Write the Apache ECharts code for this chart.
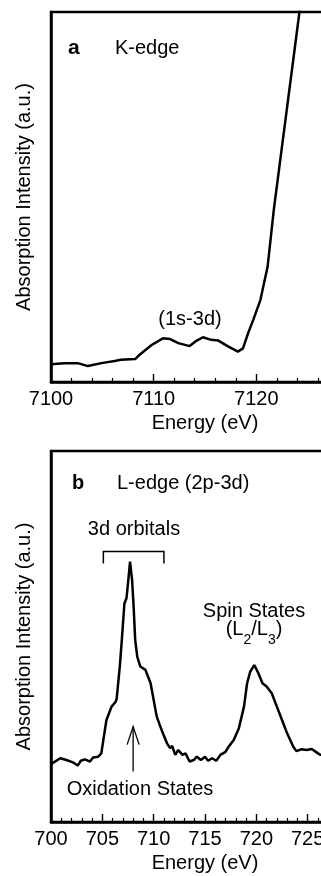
<!DOCTYPE html>
<html>
<head>
<meta charset="utf-8">
<script src="https://cdn.jsdelivr.net/npm/echarts@6/dist/echarts.min.js"></script>
<style>
  html, body { margin: 0; padding: 0; background: #fff; }
  #chart { width: 321px; height: 876px; }
</style>
</head>
<body>
<div id="chart"></div>
<script>
// panel a: Fe K-edge pre-edge region
const energyK = [7100.0, 7101.3, 7102.6, 7103.6, 7104.9, 7106.2, 7106.8, 7108.2, 7108.6, 7109.8, 7110.9, 7111.6,
  7112.4, 7113.5, 7114.2, 7114.8, 7115.6, 7116.3, 7117.2, 7118.2, 7118.7, 7119.2, 7119.7, 7120.4, 7121.1, 7121.7,
  7124.2, 7124.6]
const intensityK = [4.8, 5.1, 5.1, 4.3, 5.1, 5.7, 6.0, 6.2, 7.3, 10.0, 11.8, 11.6,
  10.5, 9.7, 11.2, 12.1, 11.4, 11.2, 9.7, 8.2, 9.1, 13.2, 16.8, 22.2, 31.2, 46.5,
  100, 107]

// panel b: L-edge (2p-3d)
const energyL = [700.0, 700.9, 701.5, 702.2, 702.6, 702.9, 703.3, 703.8, 704.1, 704.6, 704.9, 705.1, 705.4,
  705.9, 706.3, 706.4, 706.7, 706.9, 707.15, 707.35, 707.5, 707.7, 707.9, 708.05, 708.2, 708.4,
  708.7, 709.2, 709.7, 710.0, 710.3, 710.6, 710.9, 711.3, 711.6, 711.8, 712.1, 712.4, 712.8, 713.1,
  713.5, 713.9, 714.2, 714.6, 715.0, 715.3, 715.7, 716.1, 716.5, 717.0, 717.3, 717.8, 718.3, 718.8,
  719.1, 719.4, 719.8, 720.2, 720.6, 721.0, 721.5, 722.0, 722.5, 723.0, 723.3, 723.6, 723.9, 724.4,
  724.9, 725.4, 725.8, 726.2, 726.6]
const intensityL = [15.6, 17.2, 16.7, 16.0, 15.2, 16.5, 16.9, 16.3, 17.4, 17.6, 18.5, 22.1, 27.5,
  31.1, 32.4, 33.3, 41.9, 49.1, 58.9, 60.3, 64.3, 70.2, 65.2, 58.0, 49.1, 44.6,
  41.9, 41.0, 37.4, 32.9, 28.4, 26.1, 23.9, 21.2, 19.9, 20.5, 18.1, 19.4, 18.1, 18.5,
  16.3, 16.7, 17.6, 16.7, 17.6, 16.5, 17.2, 16.5, 18.1, 18.9, 20.3, 22.1, 25.3, 31.1,
  37.4, 40.5, 42.3, 40.1, 37.4, 36.5, 34.7, 31.1, 27.5, 23.9, 22.1, 20.3, 19.1, 19.6,
  19.4, 19.7, 18.9, 18.1, 18.1]

const kTicks = {min: 7100, max: 7130, interval: 10}
const lTicks = {min: 700, max: 730, interval: 5}

const font = '"Liberation Sans", Arial, Helvetica, sans-serif'
const fs = 20
const pair = (xs, ys) => xs.map((x, i) => [x, ys[i]])

function xAxisFor(ticks, grid, minorSplit) {
  return {
    type: 'value', gridIndex: grid, min: ticks.min, max: ticks.max, interval: ticks.interval,
    name: 'Energy (eV)', nameLocation: 'middle', nameGap: 31,
    nameTextStyle: {color: '#000', fontSize: fs, fontFamily: font},
    axisLine: {lineStyle: {color: '#000', width: 2.5}},
    axisTick: {inside: true, length: 8, lineStyle: {color: '#000', width: 1.4}},
    minorTick: {show: true, splitNumber: minorSplit, length: 4, lineStyle: {color: '#000', width: 1.2}},
    axisLabel: {color: '#000', fontSize: fs, fontFamily: font, margin: 7, formatter: v => String(v)},
    splitLine: {show: false}
  }
}

function yAxisFor(grid) {
  return {
    type: 'value', gridIndex: grid, min: 0, max: 100,
    name: 'Absorption Intensity (a.u.)', nameLocation: 'middle', nameGap: 17,
    nameTextStyle: {color: '#000', fontSize: fs, fontFamily: font},
    axisLine: {show: true, lineStyle: {color: '#000', width: 2.5}},
    axisTick: {show: false}, axisLabel: {show: false}, splitLine: {show: false}
  }
}

const txt = (x, y, text, extra) => ({
  type: 'text', x: x, y: y,
  style: Object.assign({text: text, fill: '#000', font: fs + 'px ' + font, align: 'left', verticalAlign: 'middle'}, extra || {})
})

var chart = echarts.init(document.getElementById('chart'))
var option = {
  animation: false,
  backgroundColor: '#fff',
  grid: [
    {left: 51, top: 12, width: 308, height: 370, show: true, borderColor: '#000', borderWidth: 2.5, outerBoundsMode: 'none'},
    {left: 51, top: 451, width: 308, height: 371, show: true, borderColor: '#000', borderWidth: 2.5, outerBoundsMode: 'none'}
  ],
  xAxis: [xAxisFor(kTicks, 0, 5), xAxisFor(lTicks, 1, 5)],
  yAxis: [yAxisFor(0), yAxisFor(1)],
  series: [
    {type: 'line', xAxisIndex: 0, yAxisIndex: 0, data: pair(energyK, intensityK), symbol: 'none',
     lineStyle: {color: '#000', width: 2.5}, clip: true},
    {type: 'line', xAxisIndex: 1, yAxisIndex: 1, data: pair(energyL, intensityL), symbol: 'none',
     lineStyle: {color: '#000', width: 2.5}, clip: true}
  ]
}
chart.setOption(option)

// annotations, anchored in data space where they point at the curve
const p = (grid, x, y) => chart.convertToPixel({gridIndex: grid}, [x, y])
const b1 = p(1, 705.1, 72.9), b2 = p(1, 711.0, 72.9), bLow = p(1, 705.1, 69.7)
const a1 = p(1, 708.0, 13.6), a2 = p(1, 708.0, 25.7)

// (L2/L3) with real subscripts, laid out piece by piece
const ctx = document.createElement('canvas').getContext('2d')
const subParts = [['(L', 0], ['2', 1], ['/L', 0], ['3', 1], [')', 0]]
const widthOf = (s, sub) => { ctx.font = (sub ? 14 : fs) + 'px ' + font; return ctx.measureText(s).width }
const total = subParts.reduce((a, s) => a + widthOf(s[0], s[1]), 0)
let cx = 254 - total / 2
const subTexts = subParts.map(s => {
  const el = txt(cx, s[1] ? 640 : 629, s[0], s[1] ? {font: '14px ' + font} : {})
  cx += widthOf(s[0], s[1])
  return el
})

chart.setOption({
  graphic: [
    txt(68, 48, 'a', {font: 'bold 21px ' + font}),
    txt(115, 48, 'K-edge'),
    txt(190, 319, '(1s-3d)', {align: 'center'}),
    txt(72, 483, 'b', {font: 'bold ' + fs + 'px ' + font}),
    txt(117, 483, 'L-edge (2p-3d)'),
    txt(134, 529, '3d orbitals', {align: 'center'}),
    txt(254, 611, 'Spin States', {align: 'center'}),
    ...subTexts,
    txt(140, 789, 'Oxidation States', {align: 'center'}),
    {type: 'polyline', shape: {points: [[b1[0], bLow[1]], b1, b2, [b2[0], bLow[1]]]},
     style: {stroke: '#000', lineWidth: 1.5, fill: null}},
    {type: 'line', shape: {x1: a1[0], y1: a1[1], x2: a2[0], y2: a2[1]}, style: {stroke: '#000', lineWidth: 1.3}},
    {type: 'polyline', shape: {points: [[a2[0] - 6, a2[1] + 18], a2, [a2[0] + 6, a2[1] + 18]]},
     style: {stroke: '#000', lineWidth: 1.3, fill: null}}
  ]
})
</script>
</body>
</html>
